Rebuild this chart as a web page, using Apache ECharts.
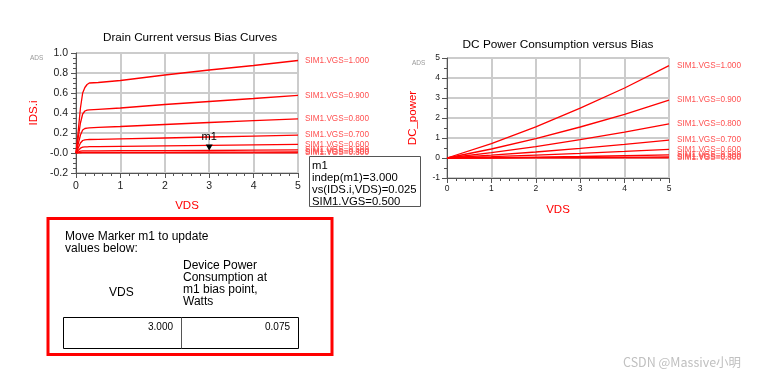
<!DOCTYPE html>
<html><head><meta charset="utf-8">
<script src="https://cdn.jsdelivr.net/npm/echarts@6/dist/echarts.min.js"></script>
<style>html,body{margin:0;padding:0;background:#fff}#c{width:766px;height:379px}</style>
</head><body><div id="c"></div>
<script>
// ---- data ----
const vgsNames = ["SIM1.VGS=1.000","SIM1.VGS=0.900","SIM1.VGS=0.800","SIM1.VGS=0.700","SIM1.VGS=0.600","SIM1.VGS=0.500","SIM1.VGS=0.400","SIM1.VGS=0.300"];
const vdsIds = [0, 0.05, 0.1, 0.15, 0.2, 0.25, 0.3, 0.5, 1, 2, 3, 4, 5];
const ids_100 = [0, 0.22, 0.45, 0.60, 0.655, 0.685, 0.70, 0.705, 0.725, 0.78, 0.83, 0.875, 0.925];
const ids_090 = [0, 0.15, 0.30, 0.39, 0.42, 0.428, 0.432, 0.437, 0.45, 0.485, 0.515, 0.545, 0.577];
const ids_080 = [0, 0.09, 0.18, 0.23, 0.245, 0.249, 0.252, 0.256, 0.265, 0.285, 0.305, 0.323, 0.342];
const ids_070 = [0, 0.05, 0.10, 0.125, 0.132, 0.134, 0.135, 0.137, 0.141, 0.150, 0.160, 0.169, 0.178];
const ids_060 = [0, 0.025, 0.048, 0.058, 0.061, 0.062, 0.063, 0.064, 0.066, 0.072, 0.077, 0.082, 0.087];
const ids_050 = [0, 0.010, 0.019, 0.021, 0.022, 0.022, 0.022, 0.0222, 0.023, 0.024, 0.025, 0.028, 0.032];
const ids_040 = [0, 0.003, 0.005, 0.006, 0.006, 0.006, 0.006, 0.0062, 0.0065, 0.007, 0.008, 0.009, 0.010];
const ids_030 = [0, 0.0005, 0.001, 0.001, 0.001, 0.001, 0.001, 0.001, 0.0012, 0.0014, 0.0016, 0.0018, 0.002];
const idsSets = [ids_100, ids_090, ids_080, ids_070, ids_060, ids_050, ids_040, ids_030];

const vdsPow = [0, 1, 2, 3, 4, 5];
const pow_100 = [0, 0.72, 1.56, 2.49, 3.50, 4.62];
const pow_090 = [0, 0.45, 0.97, 1.55, 2.18, 2.89];
const pow_080 = [0, 0.27, 0.57, 0.92, 1.29, 1.71];
const pow_070 = [0, 0.14, 0.30, 0.48, 0.68, 0.89];
const pow_060 = [0, 0.066, 0.144, 0.231, 0.328, 0.435];
const pow_050 = [0, 0.023, 0.048, 0.075, 0.112, 0.160];
const pow_040 = [0, 0.0065, 0.014, 0.024, 0.036, 0.050];
const pow_030 = [0, 0.0012, 0.0028, 0.0048, 0.0072, 0.010];
const powSets = [pow_100, pow_090, pow_080, pow_070, pow_060, pow_050, pow_040, pow_030];

const idsTicks = [-0.2, 0.0, 0.2, 0.4, 0.6, 0.8, 1.0];
const marker = {name: "m1", vds: 3.0, ids: 0.025, vgs: "0.500", power: "0.075"};

// ---- chart ----
const FONT = "'Liberation Sans', Arial, sans-serif";
const RED = "#ff0000";
const LBL = "#ff5050";
const chart = echarts.init(document.getElementById('c'), null, {renderer: 'canvas'});

function xAxis(grid, fs, gap, margin) {
  return {
    gridIndex: grid, type: 'value', min: 0, max: 5, interval: 1,
    name: 'VDS', nameLocation: 'middle', nameGap: gap,
    nameTextStyle: {color: RED, fontSize: 11.5, fontFamily: FONT},
    axisLine: {onZero: false, lineStyle: {color: '#555', width: 1}},
    axisTick: {show: true, length: 5, lineStyle: {color: '#555'}},
    minorTick: {show: true, splitNumber: 5, length: 3, lineStyle: {color: '#555'}},
    axisLabel: {color: '#222', fontSize: fs, fontFamily: FONT, margin: margin},
    splitLine: {show: true, lineStyle: {color: '#cccccc', width: 2}}
  };
}

const series = [];
idsSets.forEach((arr, i) => {
  const s = {
    type: 'line', xAxisIndex: 0, yAxisIndex: 0, name: vgsNames[i],
    data: vdsIds.map((x, k) => [x, arr[k]]),
    showSymbol: false, symbol: 'none', silent: true, animation: false,
    lineStyle: {color: RED, width: 1.3},
    endLabel: {show: true, formatter: vgsNames[i], color: LBL, fontSize: 8.2, fontFamily: FONT, distance: 7}
  };
  if (vgsNames[i] === "SIM1.VGS=" + marker.vgs) {
    s.markPoint = {
      symbol: 'triangle', symbolSize: [7, 6], symbolRotate: 180, symbolOffset: [0, -3],
      itemStyle: {color: '#000'},
      label: {show: true, position: 'top', formatter: marker.name, color: '#000', fontSize: 11, fontFamily: FONT, distance: 2},
      data: [{coord: [marker.vds, marker.ids]}]
    };
  }
  series.push(s);
});
powSets.forEach((arr, i) => {
  series.push({
    type: 'line', xAxisIndex: 1, yAxisIndex: 1, name: vgsNames[i],
    data: vdsPow.map((x, k) => [x, arr[k]]),
    showSymbol: false, symbol: 'none', silent: true, animation: false,
    lineStyle: {color: RED, width: 1.3},
    endLabel: {show: true, formatter: vgsNames[i], color: LBL, fontSize: 8.2, fontFamily: FONT, distance: 8}
  });
});

const option = {
  animation: false,
  backgroundColor: '#fff',
  title: [
    {text: 'Drain Current versus Bias Curves', left: 185, top: 27, textAlign: 'center',
     textStyle: {fontSize: 11.7, fontWeight: 'normal', color: '#000', fontFamily: FONT}},
    {text: 'DC Power Consumption versus Bias', left: 553, top: 34, textAlign: 'center',
     textStyle: {fontSize: 11.8, fontWeight: 'normal', color: '#000', fontFamily: FONT}}
  ],
  grid: [
    {left: 76, top: 53, width: 222, height: 120, show: true, borderColor: '#555', borderWidth: 1, backgroundColor: 'transparent'},
    {left: 447, top: 58, width: 222, height: 120, show: true, borderColor: '#555', borderWidth: 1, backgroundColor: 'transparent'}
  ],
  xAxis: [xAxis(0, 10.5, 27, 8), xAxis(1, 8.5, 26, 6)],
  yAxis: [
    {gridIndex: 0, type: 'value', min: idsTicks[0], max: idsTicks[idsTicks.length - 1], interval: 0.2,
     name: 'IDS.i', nameLocation: 'middle', nameGap: 36,
     nameTextStyle: {color: RED, fontSize: 11.5, fontFamily: FONT},
     axisLine: {show: true, onZero: false, lineStyle: {color: '#555'}},
     axisTick: {show: true, length: 5, lineStyle: {color: '#555'}},
     minorTick: {show: true, splitNumber: 4, length: 3, lineStyle: {color: '#555'}},
     axisLabel: {color: '#222', fontSize: 10.5, fontFamily: FONT, margin: 8,
       formatter: v => { const r = Math.round(v * 10) / 10; return r === 0 ? '-0.0' : r.toFixed(1); }},
     splitLine: {show: true, lineStyle: {color: '#cccccc', width: 2}}},
    {gridIndex: 1, type: 'value', min: -1, max: 5, interval: 1,
     name: 'DC_power', nameLocation: 'middle', nameGap: 28,
     nameTextStyle: {color: RED, fontSize: 11.5, fontFamily: FONT},
     axisLine: {show: true, onZero: false, lineStyle: {color: '#555'}},
     axisTick: {show: true, length: 5, lineStyle: {color: '#555'}},
     minorTick: {show: true, splitNumber: 2, length: 3, lineStyle: {color: '#555'}},
     axisLabel: {color: '#222', fontSize: 8.5, fontFamily: FONT, margin: 7},
     splitLine: {show: true, lineStyle: {color: '#cccccc', width: 2}}}
  ],
  series: series,
  graphic: [
    {type: 'text', left: 30, top: 55, style: {text: 'ADS', fontSize: 6.5, fill: '#999', fontFamily: FONT}},
    {type: 'text', left: 412, top: 60, style: {text: 'ADS', fontSize: 6.5, fill: '#999', fontFamily: FONT}},
    // marker readout box
    {type: 'rect', shape: {x: 309.5, y: 156.5, width: 111, height: 50}, style: {fill: '#fff', stroke: '#555', lineWidth: 1}, z: 10},
    {type: 'text', x: 312, y: 160, z: 11, style: {
      text: 'm1\nindep(m1)=' + marker.vds.toFixed(3) + '\nvs(IDS.i,VDS)=' + marker.ids.toFixed(3) + '\nSIM1.VGS=' + marker.vgs,
      fontSize: 11.3, lineHeight: 12, fill: '#000', fontFamily: FONT}},
    // red box
    {type: 'rect', shape: {x: 48, y: 218.5, width: 284, height: 136}, style: {fill: 'transparent', stroke: '#ff0000', lineWidth: 3}},
    {type: 'text', x: 65, y: 231, style: {text: 'Move Marker m1 to update\nvalues below:', fontSize: 12, lineHeight: 11.5, fill: '#000', fontFamily: FONT}},
    {type: 'text', x: 109, y: 287, style: {text: 'VDS', fontSize: 12, fill: '#000', fontFamily: FONT}},
    {type: 'text', x: 183, y: 260, style: {text: 'Device Power\nConsumption at\nm1 bias point,\nWatts', fontSize: 12, lineHeight: 11.8, fill: '#000', fontFamily: FONT}},
    {type: 'rect', shape: {x: 63.5, y: 317.5, width: 235, height: 31}, style: {fill: 'transparent', stroke: '#000', lineWidth: 1}},
    {type: 'line', shape: {x1: 181.5, y1: 317.5, x2: 181.5, y2: 348.5}, style: {stroke: '#555', lineWidth: 1}},
    {type: 'text', x: 173, y: 322, style: {text: marker.vds.toFixed(3), fontSize: 10, fill: '#000', fontFamily: FONT, align: 'right'}},
    {type: 'text', x: 290, y: 322, style: {text: marker.power, fontSize: 10, fill: '#000', fontFamily: FONT, align: 'right'}},
    {type: 'text', x: 623, y: 356, style: {text: 'CSDN @Massive小明', fontSize: 12.5, fill: '#c0c0c0', fontFamily: "'Noto Sans CJK SC', 'Liberation Sans', sans-serif"}}
  ]
};
chart.setOption(option);
</script>
</body></html>
